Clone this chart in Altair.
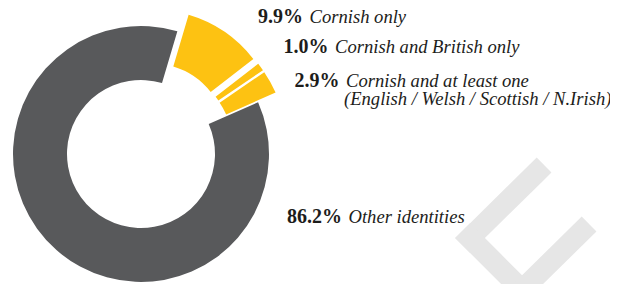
import math
import altair as alt
import pandas as pd

# ---- data ----
labels = ["Cornish only", "Cornish and British only", "Cornish and at least one", "Other identities"]
values = [9.9, 1.0, 2.9, 86.2]
exploded = [1, 1, 1, 0]
pct_text = ["9.9%", "1.0%", "2.9%", "86.2%"]
sub_text = ["", "", "(English / Welsh / Scottish / N.Irish)", ""]

# ---- style / layout ----
YELLOW = "#fdc212"
GRAY = "#58595b"
TEXT = "#1d1d1b"
LOGO = "#e6e6e6"
colors = [YELLOW, YELLOW, YELLOW, GRAY]
W, H = 602, 276
CX, CY = 133, 146
R_OUT, R_IN = 128, 74
EXPLODE = 20
A0 = math.radians(16.5)

# label layout: (x of italic text start, baseline y)
label_pos = [(301.5, 15), (327, 45), (338, 79), (340.5, 215)]
sub_pos = (336, 97)
GAP = 6.5
FONT = "Liberation Serif, Times New Roman, serif"
BOLD_SIZE = 20
ITALIC_SIZE = 18.6

df = pd.DataFrame({"label": labels, "value": values, "explode": exploded,
                   "order": list(range(len(labels)))})

base = alt.Chart(df)

donut = base.mark_arc(radius=R_OUT, radius2=R_IN).encode(
    theta=alt.Theta("start:Q", stack=None,
                    scale=alt.Scale(domain=[0, 100], range=[A0, A0 + 2 * math.pi])),
    theta2=alt.Theta2("cum:Q"),
    x=alt.X("cx:Q", scale=None, axis=None),
    y=alt.Y("cy:Q", scale=None, axis=None),
    color=alt.Color("label:N", scale=alt.Scale(domain=labels, range=colors), legend=None),
).transform_window(
    cum="sum(value)", sort=[alt.SortField("order")], frame=[None, 0]
).transform_calculate(
    start="datum.cum - datum.value"
).transform_calculate(
    mid=f"{A0} + (datum.start + datum.value / 2) / 100 * 2 * PI"
).transform_calculate(
    cx=f"{CX} + datum.explode * {EXPLODE} * sin(datum.mid)",
    cy=f"{CY} - datum.explode * {EXPLODE} * cos(datum.mid)",
)

layers = []

# decorative chevron logo (bottom right)
segs = [((528.6, 164.4), (462, 230)), ((462, 230), (514, 282)), ((514, 282), (573.6, 223.4))]
for (x1, y1), (x2, y2) in segs:
    layers.append(
        alt.Chart(df.head(1)).mark_rule(color=LOGO, strokeWidth=21, strokeCap="square").encode(
            x=alt.value(x1), y=alt.value(y1), x2=alt.value(x2), y2=alt.value(y2)
        )
    )

layers.append(donut)

for i in range(len(labels)):
    xi, yb = label_pos[i]
    layers.append(
        alt.Chart(df.head(1)).mark_text(
            text=pct_text[i], font=FONT, fontSize=BOLD_SIZE, fontWeight="bold", color=TEXT,
            align="right", baseline="alphabetic"
        ).encode(x=alt.value(xi - GAP), y=alt.value(yb))
    )
    layers.append(
        alt.Chart(df.head(1)).mark_text(
            text=labels[i], font=FONT, fontSize=ITALIC_SIZE, fontStyle="italic", color=TEXT,
            align="left", baseline="alphabetic"
        ).encode(x=alt.value(xi), y=alt.value(yb))
    )
    if sub_text[i]:
        layers.append(
            alt.Chart(df.head(1)).mark_text(
                text=sub_text[i], font=FONT, fontSize=ITALIC_SIZE, fontStyle="italic", color=TEXT,
                align="left", baseline="alphabetic"
            ).encode(x=alt.value(sub_pos[0]), y=alt.value(sub_pos[1]))
        )

chart = alt.layer(*layers).properties(
    width=W, height=H, padding=0, autosize=alt.AutoSizeParams(type="none"),
    background="white"
).configure_view(stroke=None)

chart.save("out.html", embed_options={"renderer": "svg", "actions": False})
